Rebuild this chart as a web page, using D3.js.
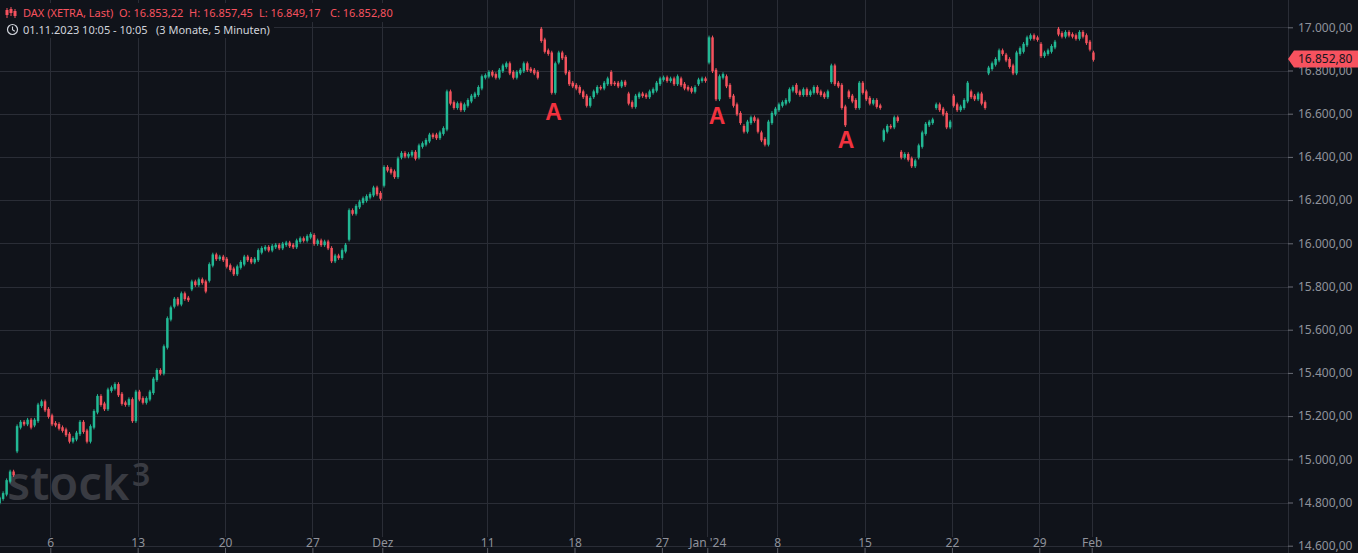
<!DOCTYPE html>
<html><head><meta charset="utf-8">
<script src="https://cdn.jsdelivr.net/npm/d3@7"></script>
<style>html,body{margin:0;padding:0;background:#10131a;overflow:hidden}svg{display:block}</style>
</head><body><svg id="c" width="1358" height="553"></svg>
<script>
// ---- DATA ----
const sessionDates = ["2023-11-01","2023-11-02","2023-11-03","2023-11-06","2023-11-07","2023-11-08","2023-11-09","2023-11-10",
"2023-11-13","2023-11-14","2023-11-15","2023-11-16","2023-11-17","2023-11-20","2023-11-21","2023-11-22","2023-11-23","2023-11-24",
"2023-11-27","2023-11-28","2023-11-29","2023-11-30","2023-12-01","2023-12-04","2023-12-05","2023-12-06","2023-12-07","2023-12-08",
"2023-12-11","2023-12-12","2023-12-13","2023-12-14","2023-12-15","2023-12-18","2023-12-19","2023-12-20","2023-12-21","2023-12-22",
"2023-12-27","2023-12-28","2023-12-29","2024-01-02","2024-01-03","2024-01-04","2024-01-05","2024-01-08","2024-01-09","2024-01-10",
"2024-01-11","2024-01-12","2024-01-15","2024-01-16","2024-01-17","2024-01-18","2024-01-19","2024-01-22","2024-01-23","2024-01-24",
"2024-01-25","2024-01-26","2024-01-29","2024-01-30","2024-01-31","2024-02-01"];
// sampled prices within each session (one sample every 0.2 session)
const sessionPrices = [
[14800,14820,14840,14900,14940,14930],
[15040,15150,15170,15165,15180,15150],
[15160,15180,15250,15265,15230,15200],
[15200,15165,15160,15145,15135,15115],
[15115,15085,15095,15120,15170,15130],
[15130,15085,15150,15220,15290,15255],
[15255,15235,15320,15330,15345,15300],
[15300,15260,15255,15275,15180,15310],
[15310,15280,15265,15280,15310,15370],
[15370,15410,15400,15520,15650,15700],
[15710,15740,15720,15765,15745,15740],
[15790,15820,15810,15830,15820,15780],
[15830,15900,15945,15930,15935,15925],
[15925,15895,15880,15860,15890,15910],
[15905,15935,15925,15915,15925,15965],
[15960,15975,15980,15970,15985,15990],
[15990,15980,15995,16000,15990,15985],
[15985,16010,16020,16015,16030,16040],
[16035,16000,16010,15995,16005,15980],
[15975,15920,15940,15935,15965,15990],
[16020,16150,16140,16170,16190,16205],
[16200,16215,16225,16255,16230,16210],
[16270,16350,16340,16330,16310,16390],
[16400,16415,16405,16410,16420,16395],
[16400,16450,16460,16475,16500,16495],
[16500,16490,16510,16530,16700,16650],
[16650,16630,16645,16620,16640,16660],
[16660,16680,16690,16720,16770,16775],
[16775,16790,16780,16770,16800,16820],
[16820,16830,16790,16770,16790,16800],
[16800,16830,16805,16800,16790,16770],
[16990,16940,16890,16880,16700,16830],
[16840,16880,16860,16790,16740,16730],
[16730,16720,16700,16680,16640,16670],
[16680,16700,16720,16720,16740,16760],
[16790,16740,16740,16730,16745,16735],
[16690,16650,16635,16680,16690,16685],
[16685,16680,16700,16710,16740,16760],
[16760,16765,16755,16760,16740,16770],
[16760,16735,16720,16715,16705,16720],
[16740,16755,16760,16755],
[16840,16950,16800,16670,16770,16780],
[16770,16730,16680,16640,16600,16560],
[16540,16520,16560,16580,16570,16520],
[16510,16480,16460,16560,16600,16620],
[16620,16640,16650,16660,16710,16720],
[16730,16700,16690,16710,16690,16700],
[16700,16720,16700,16690,16680,16700],
[16750,16820,16740,16730,16630,16550],
[16700,16680,16660,16630,16740,16700],
[16700,16670,16650,16660,16635,16630],
[16480,16520,16540,16540,16580,16570],
[16420,16400,16410,16390,16360,16380],
[16400,16450,16510,16550,16560,16570],
[16630,16640,16620,16600,16540,16560],
[16680,16640,16620,16630,16660,16740],
[16700,16680,16670,16690,16650,16630],
[16790,16810,16830,16850,16890,16880],
[16870,16850,16820,16790,16880,16900],
[16890,16920,16950,16960,16950,16945],
[16920,16870,16880,16890,16910,16930],
[16990,16970,16960,16975,16965,16960],
[16960,16950,16975,16960,16930,16900],
[16880,16852.80]
];
const sampleStep = 0.2;
const priceTicks = [14600,14800,15000,15200,15400,15600,15800,16000,16200,16400,16600,16800,17000];
const timeTickDates = ["2023-11-06","2023-11-13","2023-11-20","2023-11-27","2023-12-01","2023-12-11","2023-12-18","2023-12-27","2024-01-02","2024-01-08","2024-01-15","2024-01-22","2024-01-29","2024-02-01"];
const timeTickLabels = ["6","13","20","27","Dez","11","18","27","Jan '24","8","15","22","29","Feb"];
const markerDates = ["2023-12-14","2024-01-02","2024-01-11"];
const markerOffsets = [0.8, 0.56, 0.94];
const markerPrices = [16571, 16552, 16441];
const markerText = "A";
const lastPrice = 16852.80;
const headerTitle = "DAX (XETRA, Last)";
const headerOHLC = ["O: 16.853,22","H: 16.857,45","L: 16.849,17","C: 16.852,80"];
const headerTime = "01.11.2023 10:05 - 10:05";
const headerRange = "(3 Monate, 5 Minuten)";

// ---- STYLE ----
const W = 1358, H = 553;
const BG = "#10131a", GRID = "#2a2d36", AXIS_TXT = "#8f929b";
const UP = "#22b894", DOWN = "#f4525d";
const FONT = "'Noto Sans', 'Open Sans', sans-serif";
const axisX = 1288;
const WICK = 2.5; // px wick extension beyond body

// session starts
const sessionStart = [];
let acc = 0;
sessionPrices.forEach(p => { sessionStart.push(acc); acc += (p.length - 1) * sampleStep; });
const startOf = d => sessionStart[sessionDates.indexOf(d)];

const x = d3.scaleLinear().domain([0, startOf("2024-02-01")]).range([-2.12, 1091.7]);
const y = d3.scaleLinear().domain([14600, 17000]).range([545.7, 27.3]);
const fmt = d3.formatLocale({decimal: ",", thousands: ".", grouping: [3], currency: ["", ""]}).format(",.2f");

// candles
const candles = [];
sessionPrices.forEach((p, i) => {
  for (let j = 0; j < p.length - 1; j++) {
    candles.push({t0: sessionStart[i] + j * sampleStep, t1: sessionStart[i] + (j + 1) * sampleStep, o: p[j], c: p[j + 1]});
  }
});

const svg = d3.select("#c");
svg.append("rect").attr("width", W).attr("height", H).attr("fill", BG);

// grid
const tickPos = timeTickDates.map(startOf);
svg.append("g").selectAll("line").data(priceTicks).join("line")
  .attr("x1", 0).attr("x2", axisX).attr("y1", d => Math.round(y(d)) + 0.5).attr("y2", d => Math.round(y(d)) + 0.5)
  .attr("stroke", GRID).attr("stroke-width", 1);
svg.append("g").selectAll("line").data(tickPos).join("line")
  .attr("x1", d => Math.round(x(d)) + 0.5).attr("x2", d => Math.round(x(d)) + 0.5).attr("y1", 0).attr("y2", 537)
  .attr("stroke", GRID).attr("stroke-width", 1);

// watermark
const wm = svg.append("g").attr("fill", "#393b42").attr("font-family", FONT).attr("font-weight", 600);
wm.append("text").attr("x", 7).attr("y", 500).attr("font-size", 47).text("stock");
wm.append("text").attr("x", 132).attr("y", 486).attr("font-size", 32).text("3");

// candles: up first, down on top
const cg = svg.append("g");
const drawC = arr => {
  const g = cg.append("g").selectAll("g").data(arr).join("g").attr("fill", d => d.c > d.o ? UP : DOWN).attr("stroke", d => d.c > d.o ? UP : DOWN);
  g.append("line")
    .attr("x1", d => (x(d.t0) + x(d.t1)) / 2).attr("x2", d => (x(d.t0) + x(d.t1)) / 2)
    .attr("y1", d => Math.min(y(d.o), y(d.c)) - WICK).attr("y2", d => Math.max(y(d.o), y(d.c)) + WICK)
    .attr("stroke-width", 1);
  g.append("rect")
    .attr("x", d => x(d.t0) + 0.5)
    .attr("width", d => x(d.t1) - x(d.t0) - 1)
    .attr("y", d => Math.min(y(d.o), y(d.c)) - 0.75)
    .attr("height", d => Math.max(1.5, Math.abs(y(d.o) - y(d.c)) + 1.5))
    .attr("stroke", "none");
};
drawC(candles.filter(d => d.c > d.o));
drawC(candles.filter(d => d.c <= d.o));

// markers
svg.append("g").selectAll("text").data(markerDates).join("text")
  .attr("x", (d, i) => x(startOf(d) + markerOffsets[i]))
  .attr("y", (d, i) => y(markerPrices[i]))
  .attr("text-anchor", "middle").attr("font-family", "'Liberation Sans', Arial, sans-serif")
  .attr("font-weight", 700).attr("font-size", 23).attr("fill", "#f2323f").text(markerText);

// bottom axis (labels)
const xAxis = d3.axisBottom(x).tickValues(tickPos).tickFormat((d, i) => timeTickLabels[i]).tickSize(0).tickPadding(1);
const gx = svg.append("g").attr("transform", "translate(0,537)").call(xAxis);
gx.select(".domain").remove();
gx.selectAll("text").attr("fill", AXIS_TXT).attr("font-family", FONT).attr("font-size", 12);
const xAxis2 = d3.axisBottom(x).tickValues(tickPos).tickFormat("").tickSize(5);
const gx2 = svg.append("g").attr("transform", "translate(0,548)").call(xAxis2);
gx2.select(".domain").remove();
gx2.selectAll("line").attr("stroke", "#5d6069");

// right axis
svg.append("line").attr("x1", axisX + 0.5).attr("x2", axisX + 0.5).attr("y1", 0).attr("y2", H).attr("stroke", GRID);
const yAxis = d3.axisRight(y).tickValues(priceTicks).tickFormat(fmt).tickSize(5).tickPadding(5);
const gy = svg.append("g").attr("transform", `translate(${axisX},0)`).call(yAxis);
gy.select(".domain").remove();
gy.selectAll("line").attr("stroke", "#6a6d76");
gy.selectAll("text").attr("fill", AXIS_TXT).attr("font-family", FONT).attr("font-size", 12);

// last price label
const ly = y(lastPrice);
svg.append("path").attr("d", `M${axisX},${ly} L${axisX + 6},${ly - 8.5} L${W},${ly - 8.5} L${W},${ly + 8.5} L${axisX + 6},${ly + 8.5} Z`)
  .attr("fill", "#f7525f");
svg.append("text").attr("x", axisX + 10).attr("y", ly).attr("dy", "0.36em").attr("fill", "#14161d")
  .attr("font-family", FONT).attr("font-size", 12).text(fmt(lastPrice));

// header
const hd = svg.append("g").attr("font-family", FONT).attr("font-size", 11);
hd.append("rect").attr("x", 0).attr("y", 3).attr("width", 394).attr("height", 19).attr("fill", BG);
hd.append("rect").attr("x", 0).attr("y", 21).attr("width", 274).attr("height", 17).attr("fill", BG);
// candle icon
const ic = hd.append("g").attr("stroke", "#f7525f").attr("fill", "#f7525f");
[[7, 8, 18, 10, 15], [11, 7, 16, 9, 13], [15, 9, 18, 11, 16]].forEach(([cx, a, b, c, d]) => {
  ic.append("line").attr("x1", cx).attr("x2", cx).attr("y1", a).attr("y2", b).attr("stroke-width", 1);
  ic.append("rect").attr("x", cx - 1.5).attr("y", c).attr("width", 3).attr("height", d - c).attr("stroke", "none");
});
hd.append("text").attr("x", 23).attr("y", 17).attr("fill", "#f7525f").text(headerTitle);
[119, 189, 259, 330].forEach((px, i) =>
  hd.append("text").attr("x", px).attr("y", 17).attr("fill", "#f7525f").text(headerOHLC[i]));
// clock icon
hd.append("circle").attr("cx", 12.5).attr("cy", 29.5).attr("r", 5).attr("fill", "none").attr("stroke", "#d1d4dc").attr("stroke-width", 1.2);
hd.append("path").attr("d", "M12.5,26.5 L12.5,29.8 L14.8,31.2").attr("fill", "none").attr("stroke", "#d1d4dc").attr("stroke-width", 1.1);
hd.append("text").attr("x", 23).attr("y", 33.5).attr("fill", "#d1d4dc").text(headerTime);
hd.append("text").attr("x", 156).attr("y", 33.5).attr("fill", "#d1d4dc").text(headerRange);
</script></body></html>
